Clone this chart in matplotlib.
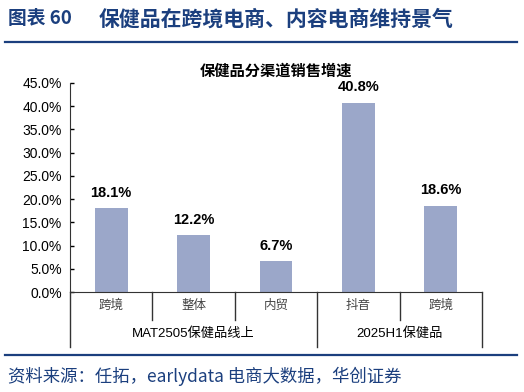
import matplotlib.pyplot as plt

plt.rcParams['font.family'] = ['Liberation Sans', 'Noto Sans CJK SC', 'DejaVu Sans']

# data
categories = ["跨境", "整体", "内贸", "抖音", "跨境"]
values = [18.1, 12.2, 6.7, 40.8, 18.6]
groups = ["MAT2505保健品线上", "2025H1保健品"]
group_spans = [(0, 2), (3, 4)]
yticks = [0, 5, 10, 15, 20, 25, 30, 35, 40, 45]

W, H = 524, 392
fig = plt.figure(figsize=(W / 100, H / 100), dpi=100)

navy = "#1B3F7E"
cjk = ['Noto Sans CJK SC', 'DejaVu Sans']

# header / footer
fig.text(8 / W, 1 - 19 / H, "图表 60", color=navy,
         fontsize=13.5, fontweight="bold", family=cjk, va="center", ha="left")
fig.text(99 / W, 1 - 19 / H, "保健品在跨境电商、内容电商维持景气", color=navy,
         fontsize=15, fontweight="bold", family=cjk, va="center", ha="left")
fig.add_artist(plt.Line2D([5 / W, 517 / W], [1 - 42 / H] * 2, color=navy, lw=1.6))
fig.add_artist(plt.Line2D([5 / W, 517 / W], [1 - 355 / H] * 2, color=navy, lw=1.6))
fig.text(8 / W, 1 - 376 / H, "资料来源：任拓，earlydata 电商大数据，华创证券", color=navy,
         fontsize=12.5, style="italic", family=cjk, va="center", ha="left")

# axes
x0, x1, ytop, ybot = 70, 482, 83, 292
ax = fig.add_axes([x0 / W, 1 - ybot / H, (x1 - x0) / W, (ybot - ytop) / H])
xs = list(range(len(values)))
ax.bar(xs, values, width=0.4, color="#9BA7C9")
for x, v in zip(xs, values):
    ax.text(x, v + 1.8, f"{v:.1f}%", ha="center", va="bottom", fontsize=10.5, fontweight="bold")

ax.set_xlim(-0.5, len(values) - 0.5)
ax.set_ylim(0, 45)
ax.set_yticks(yticks)
ax.set_yticklabels([f"{t:.1f}%" for t in yticks], fontsize=10)
ax.tick_params(axis="y", direction="in", length=3, width=1, pad=6)
ax.set_xticks([])
for s in ["top", "right"]:
    ax.spines[s].set_visible(False)
ax.spines["left"].set_color("#333333")
ax.spines["bottom"].set_color("#333333")

ax.text(0.5, 1.06, "保健品分渠道销售增速", transform=ax.transAxes, ha="center", va="center",
        fontsize=11, fontweight="bold", family=cjk)

# category axis
tr = ax.get_xaxis_transform()
inner = -28 / (ybot - ytop)
outer = -55 / (ybot - ytop)
for i, c in enumerate(categories):
    ax.text(i, -13 / (ybot - ytop), c, transform=tr, ha="center", va="center",
            fontsize=9, family=cjk, color="#444444")
bounds = [-0.5 + k for k in range(len(values) + 1)]
group_edges = [group_spans[0][0] - 0.5] + [g[1] + 0.5 for g in group_spans]
for b in bounds:
    low = outer if b in group_edges else inner
    ax.plot([b, b], [0, low], transform=tr, color="#333333", lw=1, clip_on=False)
for g, (a, b) in zip(groups, group_spans):
    ax.text((a + b) / 2, -42 / (ybot - ytop), g, transform=tr, ha="center", va="center",
            fontsize=9.5, family=['Liberation Sans', 'Noto Sans CJK SC'])

fig.savefig("out.png", dpi=100)
